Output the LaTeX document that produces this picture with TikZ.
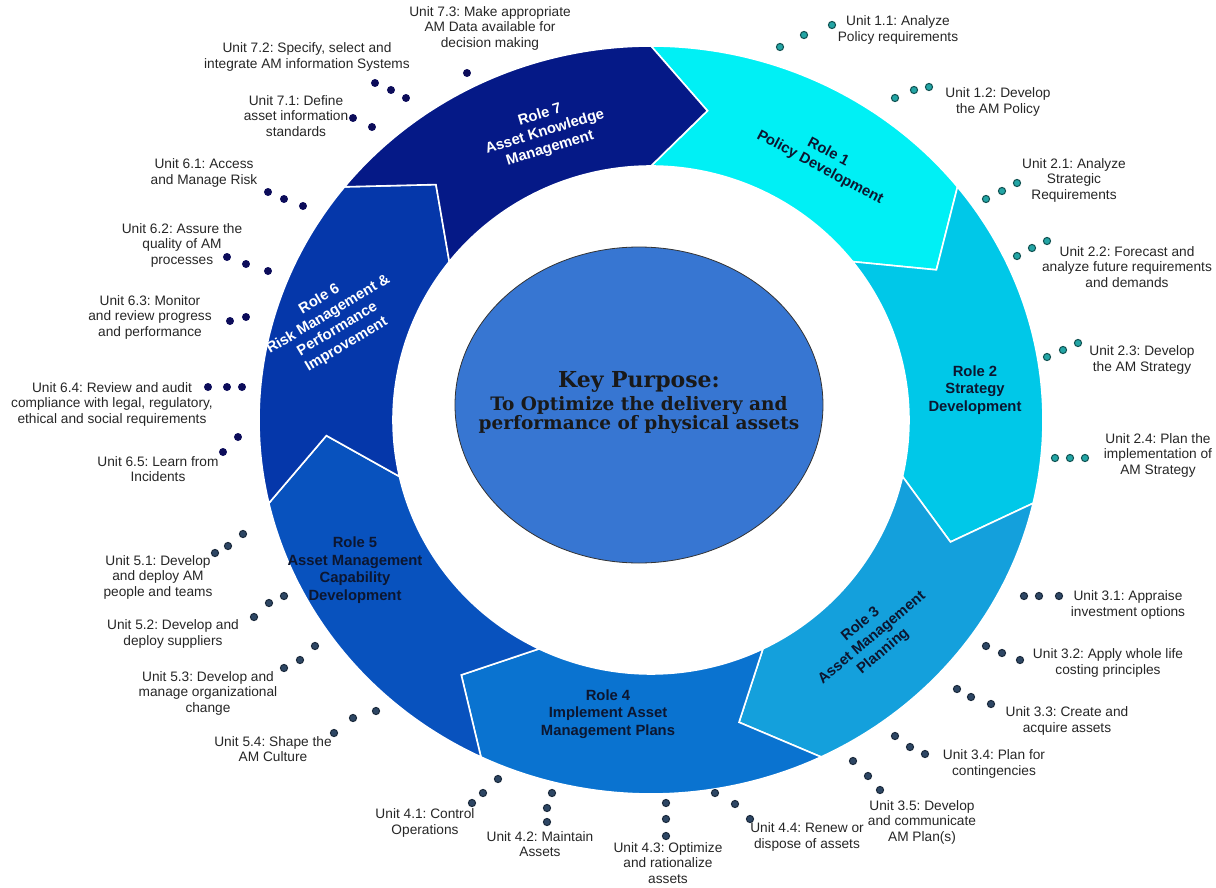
\documentclass[tikz,border=0pt]{standalone}
\usepackage{fontspec}
\setmainfont{Liberation Sans}
\newfontfamily\purposefont{DejaVu Serif}
\usepackage{tikz}
\frenchspacing

\definecolor{policy}{RGB}{0,240,245}
\definecolor{strategy}{RGB}{0,200,232}
\definecolor{planning}{RGB}{20,160,220}
\definecolor{implement}{RGB}{10,115,208}
\definecolor{capability}{RGB}{8,82,190}
\definecolor{risk}{RGB}{5,55,170}
\definecolor{knowledge}{RGB}{5,25,135}
\definecolor{purpose}{RGB}{55,118,210}
\definecolor{roletext}{RGB}{12,22,48}
\definecolor{tealdot}{RGB}{35,165,165}
\definecolor{slatedot}{RGB}{45,70,100}
\definecolor{navydot}{RGB}{12,12,90}

\begin{document}
\begin{tikzpicture}[x=1pt, y=1pt,
    unitlabel/.style={align=center, inner sep=0pt, text=black!85, font=\fontsize{13.7}{15.5}\selectfont},
    rolelabel/.style={align=center, inner sep=0pt, text=roletext, font=\bfseries\fontsize{14.8}{17.5}\selectfont}]
            \useasboundingbox (-651,-467) rectangle (565,420);

            % Seven roles as arrow pieces of the ring
            \foreach \i/\col in {1/policy,2/strategy,3/planning,4/implement,5/capability,6/risk,7/knowledge} {
            \pgfmathsetmacro\a{90-(\i-1)*360/7}
            \pgfmathsetmacro\b{\a-360/7}
            \path[fill=\col, draw=white, line width=1.6pt]
                (\a:392pt and 374pt) arc[start angle=\a, end angle=\b, x radius=392pt, y radius=374pt]
                -- ({\b-10}:325pt and 314pt) -- (\b:258pt and 254pt)
                arc[start angle=\b, end angle=\a, x radius=258pt, y radius=254pt]
                -- ({\a-10}:325pt and 314pt) -- cycle;
            }

            % Key purpose in the middle
            \draw[fill=purpose, draw=black!80, line width=0.8pt] (-12,15) ellipse[x radius=184pt, y radius=158pt];
            \node[inner sep=0pt, font=\purposefont\bfseries\fontsize{22}{24}\selectfont, text=black!90] (key) at (-12,38) {Key Purpose:};
            \node[align=center, inner sep=0pt, font=\purposefont\bfseries\fontsize{18.5}{18}\selectfont, text=black!90] (aim) at (-12,5) {To Optimize the delivery and\\performance of physical assets};

            % Role names
            \node[rolelabel, rotate=-28] (r1) at (173,260) {Role 1\\Policy Development};
            \node[rolelabel] (r2) at (324,30) {Role 2\\Strategy\\Development};
            \node[rolelabel, rotate=40] (r3) at (221,-218) {Role 3\\Asset Management\\Planning};
            \node[rolelabel] (r4) at (-43,-294) {Role 4\\Implement Asset\\Management Plans};
            \node[rolelabel] (r5) at (-296,-150) {Role 5\\Asset Management\\Capability\\Development};
            \node[rolelabel, text=white, rotate=31] (r6) at (-318,98) {Role 6\\Risk Management \&\\Performance\\Improvement};
            \node[rolelabel, text=white, rotate=17] (r7) at (-106,288) {Role 7\\Asset Knowledge\\Management};

            % Units round the ring
            \node[unitlabel] (u11) at (247,390) {Unit 1.1: Analyze\\Policy requirements};
            \node[unitlabel] (u12) at (347,318) {Unit 1.2: Develop\\the AM Policy};
            \node[unitlabel] (u21) at (423,240) {Unit 2.1: Analyze\\Strategic\\Requirements};
            \node[unitlabel] (u22) at (476,153) {Unit 2.2: Forecast and\\analyze future requirements\\and demands};
            \node[unitlabel] (u23) at (491,60) {Unit 2.3: Develop\\the AM Strategy};
            \node[unitlabel] (u24) at (507,-35) {Unit 2.4: Plan the\\implementation of\\AM Strategy};
            \node[unitlabel] (u31) at (477,-185) {Unit 3.1: Appraise\\investment options};
            \node[unitlabel] (u32) at (457,-243) {Unit 3.2: Apply whole life\\costing principles};
            \node[unitlabel] (u33) at (416,-301) {Unit 3.3: Create and\\acquire assets};
            \node[unitlabel] (u34) at (343,-344) {Unit 3.4: Plan for\\contingencies};
            \node[unitlabel] (u35) at (271,-402) {Unit 3.5: Develop\\and communicate\\AM Plan(s)};
            \node[unitlabel] (u44) at (156,-417) {Unit 4.4: Renew or\\dispose of assets};
            \node[unitlabel] (u43) at (17,-443) {Unit 4.3: Optimize\\and rationalize\\assets};
            \node[unitlabel] (u42) at (-111,-424) {Unit 4.2: Maintain\\Assets};
            \node[unitlabel] (u41) at (-226,-403) {Unit 4.1: Control\\Operations};
            \node[unitlabel] (u54) at (-378,-329) {Unit 5.4: Shape the\\AM Culture};
            \node[unitlabel] (u53) at (-443,-273) {Unit 5.3: Develop and\\manage organizational\\change};
            \node[unitlabel] (u52) at (-478,-214) {Unit 5.2: Develop and\\deploy suppliers};
            \node[unitlabel] (u51) at (-493,-157) {Unit 5.1: Develop\\and deploy AM\\people and teams};
            \node[unitlabel] (u65) at (-493,-49) {Unit 6.5: Learn from\\Incidents};
            \node[unitlabel] (u64) at (-539,16) {Unit 6.4: Review and audit\\compliance with legal, regulatory,\\ethical and social requirements};
            \node[unitlabel] (u63) at (-501,103) {Unit 6.3: Monitor\\and review progress\\and performance};
            \node[unitlabel] (u62) at (-469,175) {Unit 6.2: Assure the\\quality of AM\\processes};
            \node[unitlabel] (u61) at (-447,247) {Unit 6.1: Access\\and Manage Risk};
            \node[unitlabel] (u71) at (-355,304) {Unit 7.1: Define\\asset information\\standards};
            \node[unitlabel] (u72) at (-344,363) {Unit 7.2: Specify, select and\\integrate AM information Systems};
            \node[unitlabel] (u73) at (-161,392) {Unit 7.3: Make appropriate\\AM Data available for\\decision making};

            % Dots leading to the units of roles 1 and 2
            \foreach \x/\y in {129/373,153/385,181/395, 244/322,263/330,278/333,
                335/221,351/229,366/237, 366/164,381/172,396/179,
                396/63,412/70,427/77, 404/-38,419/-38,434/-38}
            \draw[fill=tealdot, draw=tealdot!50!black, line width=1pt] (\x,\y) circle[radius=3.6pt];

            % Dots of roles 3, 4 and 5
            \foreach \x/\y in {373/-176,388/-176,408/-176, 335/-226,351/-233,369/-240,
                306/-269,320/-277,340/-284, 244/-316,259/-327,274/-334,
                202/-341,217/-356,229/-370, 64/-373,84/-384,99/-399,
                15/-383,15/-399,15/-416, -99/-373,-104/-388,-104/-402,
                -179/-383,-168/-373,-153/-359, -317/-313,-298/-298,-275/-291,
                -367/-248,-351/-240,-336/-226, -397/-197,-382/-183,-367/-176,
                -436/-133,-423/-126,-408/-114}
            \draw[fill=slatedot, draw=slatedot!60!black, line width=1pt] (\x,\y) circle[radius=3.6pt];

            % Dots of roles 6 and 7
            \foreach \x/\y in {-428/-32,-413/-17, -443/33,-424/33,-409/33,
                -421/99,-405/103, -424/163,-405/156,-383/149,
                -383/228,-367/221,-348/214, -298/302,-279/293,
                -276/337,-260/330,-245/322, -184/347}
            \fill[navydot] (\x,\y) circle[radius=4pt];
        \end{tikzpicture}
\end{document}
